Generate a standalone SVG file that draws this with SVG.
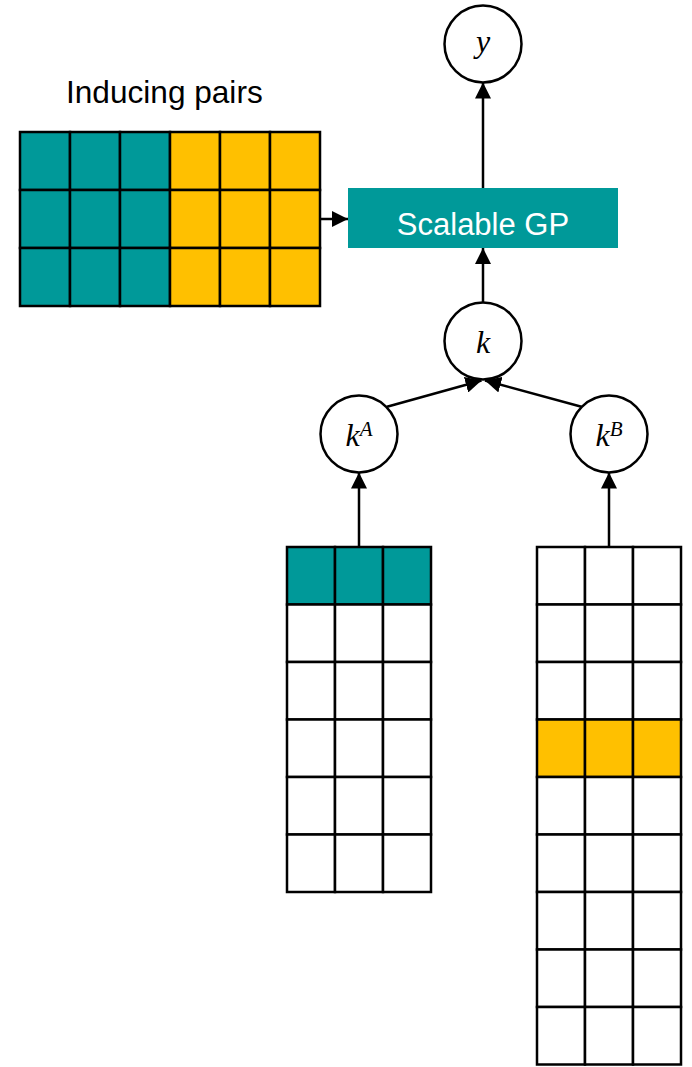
<svg xmlns="http://www.w3.org/2000/svg" width="692" height="1067" viewBox="0 0 692 1067">
  <style>
    .cell { stroke: #000; stroke-width: 2.5; }
    .teal { fill: #009999; }
    .gold { fill: #FFC000; }
    .blank { fill: #FFFFFF; }
    .node { fill: #FFFFFF; stroke: #000; stroke-width: 2.5; }
    .math { font-family: "Liberation Serif", "Times New Roman", serif; font-style: italic; fill: #000; }
    .sans { font-family: "Liberation Sans", Arial, sans-serif; }
    .edge { stroke: #000; stroke-width: 2.5; fill: none; marker-end: url(#head); }
  </style>
  <defs>
    <marker id="head" markerUnits="userSpaceOnUse" markerWidth="16" markerHeight="16" viewBox="0 0 16 16" refX="16" refY="8" orient="auto">
      <path d="M0,0 L16,8 L0,16 Z" fill="#000"/>
    </marker>
  </defs>
  <rect width="692" height="1067" fill="#FFFFFF"/>

  <!-- inducing pairs grid: 3 rows, A half in teal, B half in gold -->
  <g id="inducing-pairs">
    <text class="sans" x="66" y="103" font-size="31.6" fill="#000">Inducing pairs</text>
    <g>
      <rect class="cell teal" x="20" y="132" width="50" height="58"/>
      <rect class="cell teal" x="70" y="132" width="50" height="58"/>
      <rect class="cell teal" x="120" y="132" width="50" height="58"/>
      <rect class="cell gold" x="170" y="132" width="50" height="58"/>
      <rect class="cell gold" x="220" y="132" width="50" height="58"/>
      <rect class="cell gold" x="270" y="132" width="50" height="58"/>
      <rect class="cell teal" x="20" y="190" width="50" height="58"/>
      <rect class="cell teal" x="70" y="190" width="50" height="58"/>
      <rect class="cell teal" x="120" y="190" width="50" height="58"/>
      <rect class="cell gold" x="170" y="190" width="50" height="58"/>
      <rect class="cell gold" x="220" y="190" width="50" height="58"/>
      <rect class="cell gold" x="270" y="190" width="50" height="58"/>
      <rect class="cell teal" x="20" y="248" width="50" height="58"/>
      <rect class="cell teal" x="70" y="248" width="50" height="58"/>
      <rect class="cell teal" x="120" y="248" width="50" height="58"/>
      <rect class="cell gold" x="170" y="248" width="50" height="58"/>
      <rect class="cell gold" x="220" y="248" width="50" height="58"/>
      <rect class="cell gold" x="270" y="248" width="50" height="58"/>
    </g>
  </g>

  <!-- model box -->
  <g id="scalable-gp">
    <rect x="348" y="188" width="270" height="60" fill="#009999"/>
    <text class="sans" x="483" y="235" font-size="31" fill="#FFFFFF" text-anchor="middle">Scalable GP</text>
  </g>

  <!-- output node -->
  <g id="node-y">
    <circle class="node" cx="483" cy="44" r="38.5"/>
    <text class="math" x="483" y="52" font-size="32" text-anchor="middle">y</text>
  </g>

  <!-- combined kernel -->
  <g id="node-k">
    <circle class="node" cx="483" cy="341" r="38.5"/>
    <text class="math" x="483" y="353" font-size="32" text-anchor="middle">k</text>
  </g>

  <!-- per-table kernels -->
  <g id="node-kA">
    <circle class="node" cx="359" cy="434" r="38.5"/>
    <text class="math" x="359" y="446" font-size="32" text-anchor="middle">k<tspan font-size="21" dy="-10">A</tspan></text>
  </g>
  <g id="node-kB">
    <circle class="node" cx="609" cy="434" r="38.5"/>
    <text class="math" x="609" y="446" font-size="32" text-anchor="middle">k<tspan font-size="21" dy="-10">B</tspan></text>
  </g>

  <!-- table A: first row is an inducing row -->
  <g id="table-A">
    <rect class="cell teal" x="287" y="547" width="48" height="57.5"/>
    <rect class="cell teal" x="335" y="547" width="48" height="57.5"/>
    <rect class="cell teal" x="383" y="547" width="48" height="57.5"/>
    <rect class="cell blank" x="287" y="604.5" width="48" height="57.5"/>
    <rect class="cell blank" x="335" y="604.5" width="48" height="57.5"/>
    <rect class="cell blank" x="383" y="604.5" width="48" height="57.5"/>
    <rect class="cell blank" x="287" y="662" width="48" height="57.5"/>
    <rect class="cell blank" x="335" y="662" width="48" height="57.5"/>
    <rect class="cell blank" x="383" y="662" width="48" height="57.5"/>
    <rect class="cell blank" x="287" y="719.5" width="48" height="57.5"/>
    <rect class="cell blank" x="335" y="719.5" width="48" height="57.5"/>
    <rect class="cell blank" x="383" y="719.5" width="48" height="57.5"/>
    <rect class="cell blank" x="287" y="777" width="48" height="57.5"/>
    <rect class="cell blank" x="335" y="777" width="48" height="57.5"/>
    <rect class="cell blank" x="383" y="777" width="48" height="57.5"/>
    <rect class="cell blank" x="287" y="834.5" width="48" height="57.5"/>
    <rect class="cell blank" x="335" y="834.5" width="48" height="57.5"/>
    <rect class="cell blank" x="383" y="834.5" width="48" height="57.5"/>
  </g>

  <!-- table B: fourth row is an inducing row -->
  <g id="table-B">
    <rect class="cell blank" x="537" y="547" width="48" height="57.5"/>
    <rect class="cell blank" x="585" y="547" width="48" height="57.5"/>
    <rect class="cell blank" x="633" y="547" width="48" height="57.5"/>
    <rect class="cell blank" x="537" y="604.5" width="48" height="57.5"/>
    <rect class="cell blank" x="585" y="604.5" width="48" height="57.5"/>
    <rect class="cell blank" x="633" y="604.5" width="48" height="57.5"/>
    <rect class="cell blank" x="537" y="662" width="48" height="57.5"/>
    <rect class="cell blank" x="585" y="662" width="48" height="57.5"/>
    <rect class="cell blank" x="633" y="662" width="48" height="57.5"/>
    <rect class="cell gold" x="537" y="719.5" width="48" height="57.5"/>
    <rect class="cell gold" x="585" y="719.5" width="48" height="57.5"/>
    <rect class="cell gold" x="633" y="719.5" width="48" height="57.5"/>
    <rect class="cell blank" x="537" y="777" width="48" height="57.5"/>
    <rect class="cell blank" x="585" y="777" width="48" height="57.5"/>
    <rect class="cell blank" x="633" y="777" width="48" height="57.5"/>
    <rect class="cell blank" x="537" y="834.5" width="48" height="57.5"/>
    <rect class="cell blank" x="585" y="834.5" width="48" height="57.5"/>
    <rect class="cell blank" x="633" y="834.5" width="48" height="57.5"/>
    <rect class="cell blank" x="537" y="892" width="48" height="57.5"/>
    <rect class="cell blank" x="585" y="892" width="48" height="57.5"/>
    <rect class="cell blank" x="633" y="892" width="48" height="57.5"/>
    <rect class="cell blank" x="537" y="949.5" width="48" height="57.5"/>
    <rect class="cell blank" x="585" y="949.5" width="48" height="57.5"/>
    <rect class="cell blank" x="633" y="949.5" width="48" height="57.5"/>
    <rect class="cell blank" x="537" y="1007" width="48" height="57.5"/>
    <rect class="cell blank" x="585" y="1007" width="48" height="57.5"/>
    <rect class="cell blank" x="633" y="1007" width="48" height="57.5"/>
  </g>

  <!-- connectors -->
  <g id="connectors">
    <line class="edge" x1="320" y1="219" x2="348" y2="219"/>
    <line class="edge" x1="483" y1="188" x2="483" y2="82.5"/>
    <line class="edge" x1="483" y1="302.5" x2="483" y2="248"/>
    <line class="edge" x1="387" y1="406.7" x2="481.5" y2="380.5"/>
    <line class="edge" x1="581.5" y1="406.7" x2="485" y2="380.5"/>
    <line class="edge" x1="359" y1="547" x2="359" y2="472.5"/>
    <line class="edge" x1="609" y1="547" x2="609" y2="472.5"/>
  </g>
</svg>
